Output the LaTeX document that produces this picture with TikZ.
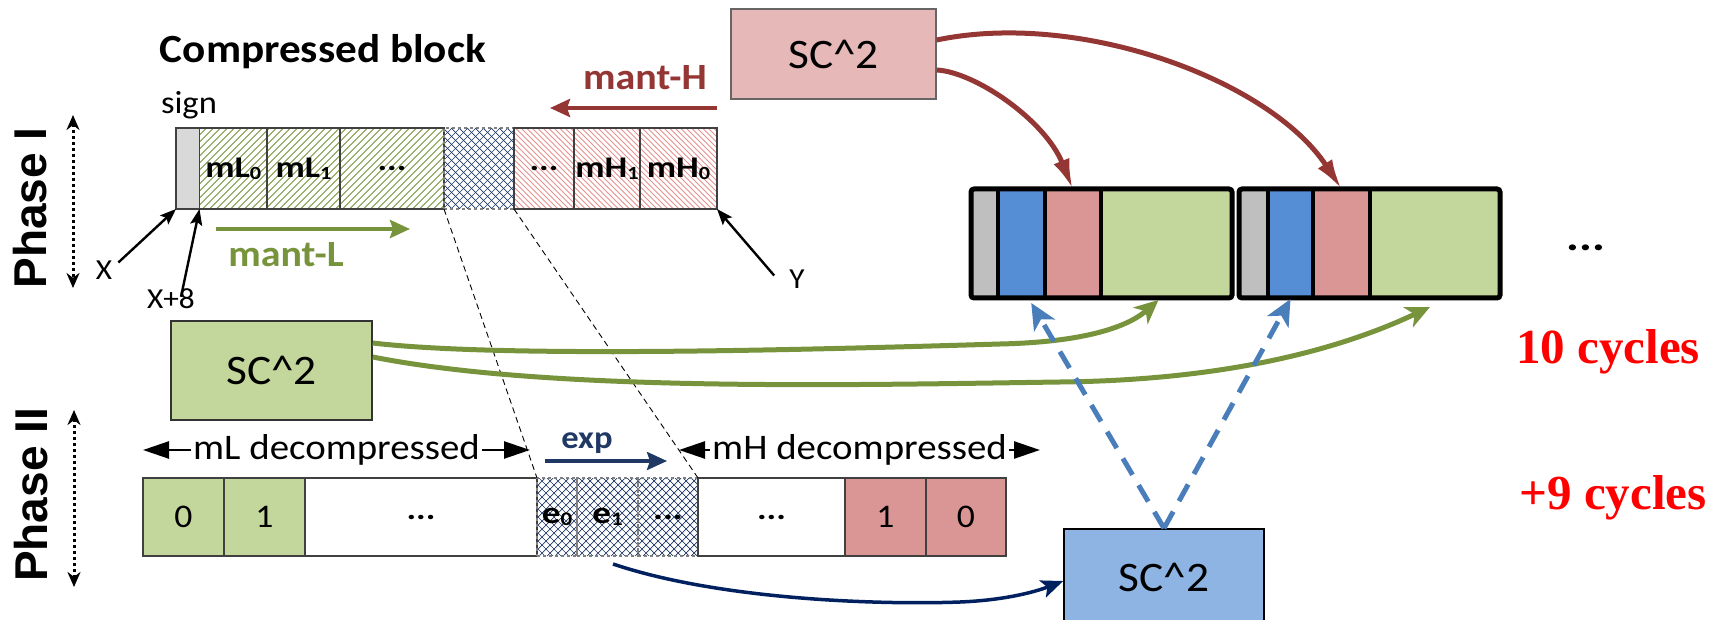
\documentclass[tikz,border=0pt]{standalone}
\usepackage{fontspec}
\setmainfont{Carlito}[FakeStretch=1.08]
\newfontfamily\cellfont{Carlito}[FakeStretch=1.2]
\newfontfamily\phasefont{Liberation Sans}
\newfontfamily\cyclefont{Liberation Serif}
\usetikzlibrary{arrows.meta}

\definecolor{sgray}{HTML}{D9D9D9}
\definecolor{mgray}{HTML}{BFBFBF}
\definecolor{mblue}{HTML}{558ED5}
\definecolor{mpink}{HTML}{D99694}
\definecolor{mgreen}{HTML}{C3D69B}
\definecolor{boxpink}{HTML}{E6B9B8}
\definecolor{boxblue}{HTML}{8EB4E3}
\definecolor{darkred}{HTML}{943634}
\definecolor{olive}{HTML}{77933C}
\definecolor{navy}{HTML}{1F3864}
\definecolor{deepnavy}{HTML}{002060}
\definecolor{dashblue}{HTML}{4A7EBB}
\definecolor{hatchred}{HTML}{E3928F}
\definecolor{edgegray}{HTML}{404040}

\newcommand\fsz[1]{\fontsize{#1}{#1}\selectfont}
\newcommand\lowidx[1]{\raisebox{-0.06em}{\scalebox{0.62}{#1}}}

\begin{document}
\begin{tikzpicture}[x=1pt,y=-1pt,
  cellbox/.style={draw=edgegray, line width=1.1pt, inner sep=0pt, outer sep=0pt, anchor=north west},
  rowI/.style={cellbox, minimum height=81pt, font=\cellfont\fsz{30}\bfseries},
  rowII/.style={cellbox, minimum height=78pt, font=\fsz{33}},
  xcell/.style={draw=gray, dashed},
  hatchline/.style={line width=0.8pt},
  crossline/.style={navy, line width=0.7pt},
  memcell/.style={inner sep=0pt, outer sep=0pt, anchor=north west, minimum height=109pt},
  memframe/.style={memcell, draw=black, line width=5pt, rounded corners=3pt},
  sep/.style={line width=4pt},
  scbox/.style={line width=1.5pt, inner sep=0pt, font=\fsz{42}},
  txt/.style={inner sep=0pt},
  phase/.style={inner sep=0pt, rotate=90, font=\phasefont\bfseries\fsz{46}},
  dotarrow/.style={line width=3pt, dash pattern=on 3pt off 3pt, {Stealth[length=15pt,width=13pt]}-{Stealth[length=15pt,width=13pt]}},
  ptr/.style={line width=2.4pt, -{Stealth[length=16pt,width=12pt,inset=3pt]}},
  redarrow/.style={darkred, line width=5pt, -{Latex[length=30pt,width=17pt]}},
  greenarrow/.style={olive, line width=5pt, -{Stealth[length=24pt,width=22pt,inset=7pt]}},
  bluearrow/.style={dashblue, line width=5pt, dash pattern=on 19pt off 12pt, -{Stealth[length=26pt,width=24pt,inset=7pt]}},
  navyarrow/.style={deepnavy, line width=3.5pt, -{Stealth[length=22pt,width=18pt,inset=5pt]}},
  shortarrow/.style={line width=4pt, -{Stealth[length=20pt,width=18pt,inset=3pt]}},
  spanarrow/.style={line width=2.5pt, {Triangle[length=26pt,width=17pt]}-{Triangle[length=26pt,width=17pt]}},
]
\useasboundingbox (0,0) rectangle (1725,620);
\clip (0,0) rectangle (1725,620);

% ---------- Phase I : compressed block ----------
\node[txt, font=\fsz{40}\bfseries] (title) at (323,52) {Compressed block};
\node[txt, font=\fsz{32}] (sign) at (189,105) {sign};

% hatched fields
\begin{scope}
  \clip (199.5,128) rectangle (444,209);
  \foreach \k in {0,...,48} \draw[hatchline, olive] (118.5+7*\k,209) -- ++(81,-81);
\end{scope}
\begin{scope}
  \clip (514,128) rectangle (717,209);
  \foreach \k in {0,...,52} \draw[hatchline, hatchred] (433+5.5*\k,128) -- ++(81,81);
\end{scope}
\begin{scope}
  \clip (444,128) rectangle (514,209);
  \foreach \k in {0,...,20} {
    \draw[crossline] (363+8*\k,209) -- ++(81,-81);
    \draw[crossline] (363+8*\k,128) -- ++(81,81);
  }
\end{scope}

\node[rowI, fill=sgray, minimum width=23.5pt] (sgn) at (176,128) {};
\node[rowI, minimum width=67.5pt] (mlz) at (199.5,128) {mL\lowidx{0}};
\node[rowI, minimum width=73pt] (mlo) at (267,128) {mL\lowidx{1}};
\node[rowI, minimum width=104pt] (mld) at (340,128) {...};
\node[rowI, xcell, minimum width=70pt] (xh) at (444,128) {};
\node[rowI, minimum width=60pt] (mhd) at (514,128) {...};
\node[rowI, minimum width=66pt] (mho) at (574,128) {mH\lowidx{1}};
\node[rowI, minimum width=77pt] (mhz) at (640,128) {mH\lowidx{0}};

% pointers to the block boundaries
\node[txt, font=\fsz{29}] (lX) at (104,270) {X};
\node[txt, font=\fsz{29}] (lX8) at (171,299) {X+8};
\node[txt, font=\fsz{29}] (lY) at (797,279) {Y};
\draw[ptr] ([xshift=6pt,yshift=-2pt]lX.north east) -- (sgn.south west);
\draw[ptr] ([xshift=10pt,yshift=-8pt]lX8.north) -- (sgn.south east);
\draw[ptr] ([xshift=-15pt,yshift=-6pt]lY.north west) -- (mhz.south east);

% mantissa directions
\coordinate (mhA) at (717,108);
\coordinate (mhB) at (550,108);
\draw[shortarrow, darkred] (mhA) -- (mhB);
\node[txt, font=\fsz{37}\bfseries, text=darkred] (mantH) at (645,78) {mant-H};
\coordinate (mlA) at (216,229);
\coordinate (mlB) at (410,229);
\draw[shortarrow, olive] (mlA) -- (mlB);
\node[txt, font=\fsz{37}\bfseries, text=olive] (mantL) at (286,255) {mant-L};

% phase labels
\node[phase] (phI) at (30,208) {Phase I};
\coordinate (pIa) at (73,115);
\coordinate (pIb) at (73,288);
\draw[dotarrow] (pIa) -- (pIb);
\node[phase] (phII) at (31,495) {Phase II};
\coordinate (pIIa) at (74,410);
\coordinate (pIIb) at (74,587);
\draw[dotarrow] (pIIa) -- (pIIb);

% ---------- SC^2 units ----------
\node[scbox, draw=gray!80!black, fill=boxpink, minimum width=205pt, minimum height=90pt] (sch) at (833.5,54) {SC\^{}2};
\node[scbox, draw=black!80, fill=mgreen, minimum width=201pt, minimum height=99pt] (scl) at (271.5,370.5) {SC\^{}2};
\node[scbox, draw=black, fill=boxblue, minimum width=200pt, minimum height=96pt] (sce) at (1164,577) {SC\^{}2};

% ---------- Phase II : decompressed values ----------
\begin{scope}
  \clip (537,478) rectangle (698,556);
  \foreach \k in {0,...,31} {
    \draw[crossline] (459+8*\k,556) -- ++(78,-78);
    \draw[crossline] (459+8*\k,478) -- ++(78,78);
  }
\end{scope}
\node[rowII, fill=mgreen, minimum width=81pt] (pz) at (143,478) {0};
\node[rowII, fill=mgreen, minimum width=81pt] (po) at (224,478) {1};
\node[rowII, fill=white, minimum width=232pt, font=\cellfont\fsz{30}\bfseries] (pd) at (305,478) {...};
\node[rowII, xcell, minimum width=40pt, font=\cellfont\fsz{31}\bfseries] (pe0) at (537,478) {e\lowidx{0}};
\node[rowII, xcell, minimum width=61pt, font=\cellfont\fsz{31}\bfseries] (pe1) at (577,478) {e\lowidx{1}};
\node[rowII, xcell, minimum width=60pt, font=\cellfont\fsz{31}\bfseries] (ped) at (638,478) {...};
\node[rowII, fill=white, minimum width=147pt, font=\cellfont\fsz{30}\bfseries] (qd) at (698,478) {...};
\node[rowII, fill=mpink, minimum width=81pt] (qo) at (845,478) {1};
\node[rowII, fill=mpink, minimum width=80pt] (qz) at (926,478) {0};

% exponent region mapping between the two phases
\draw[line width=0.9pt, dash pattern=on 6pt off 4pt] (xh.south west) -- (pe0.north west);
\draw[line width=0.9pt, dash pattern=on 6pt off 4pt] (xh.south east) -- (ped.north east);

% extent labels
\coordinate (mlL) at (143,450);
\coordinate (mlR) at (530,450);
\draw[spanarrow] (mlL) -- (mlR) node[midway, fill=white, inner sep=2pt, font=\fsz{36}] (mldec) {mL decompressed};
\coordinate (mhL) at (679,450);
\coordinate (mhR) at (1040,450);
\draw[spanarrow] (mhL) -- (mhR) node[midway, fill=white, inner sep=2pt, font=\fsz{36}] (mhdec) {mH decompressed};

\coordinate (exA) at (545,461);
\coordinate (exB) at (667,461);
\draw[shortarrow, navy, line width=3.5pt] (exA) -- (exB);
\node[txt, font=\fsz{32}\bfseries, text=navy] (expl) at (587,443) {exp};

% ---------- reconstructed values ----------
\node[memcell, fill=mgray, minimum width=27pt] (ags) at (971,189) {};
\node[memcell, fill=mblue, minimum width=46.5pt] (agb) at (998,189) {};
\node[memcell, fill=mpink, minimum width=56.5pt] (agp) at (1044.5,189) {};
\node[memcell, fill=mgreen, minimum width=131pt] (agg) at (1101,189) {};
\node[memframe, minimum width=261pt] (memA) at (971,189) {};
\draw[sep] (agb.north west) -- (agb.south west);
\draw[sep] (agp.north west) -- (agp.south west);
\draw[sep] (agg.north west) -- (agg.south west);

\node[memcell, fill=mgray, minimum width=29pt] (bgs) at (1239,189) {};
\node[memcell, fill=mblue, minimum width=45pt] (bgb) at (1268,189) {};
\node[memcell, fill=mpink, minimum width=57pt] (bgp) at (1313,189) {};
\node[memcell, fill=mgreen, minimum width=130pt] (bgg) at (1370,189) {};
\node[memframe, minimum width=261pt] (memB) at (1239,189) {};
\draw[sep] (bgb.north west) -- (bgb.south west);
\draw[sep] (bgp.north west) -- (bgp.south west);
\draw[sep] (bgg.north west) -- (bgg.south west);

\node[txt, font=\cellfont\fsz{40}\bfseries] (more) at (1586,248) {...};

% ---------- data flow ----------
\draw[redarrow] ([yshift=-16pt]sch.east) .. controls (975,72) and (1045,120) .. (agp.north);
\draw[redarrow] ([yshift=14pt]sch.east) .. controls (1080,10) and (1270,80) .. (bgp.north);

\draw[greenarrow] ([yshift=27.5pt]scl.east) .. controls (500,358) and (800,350) .. (1000,344)
   .. controls (1090,342) and (1130,325) .. ([xshift=-8pt,yshift=-2pt]agg.south);
\draw[greenarrow] ([yshift=13.5pt]scl.east) .. controls (550,392) and (850,385) .. (1060,382)
   .. controls (1250,380) and (1360,340) .. ([xshift=-5pt,yshift=-9pt]bgg.south);

\draw[bluearrow] (sce.north) -- ([xshift=10pt,yshift=-5pt]agb.south);
\draw[bluearrow] (sce.north) -- ([xshift=0pt,yshift=-1pt]bgb.south);

\draw[navyarrow] ([xshift=5.5pt,yshift=-8pt]pe1.south) .. controls (720,600) and (880,605) .. (960,602)
   .. controls (1010,600) and (1040,590) .. ([yshift=-4pt]sce.west);

% ---------- timing ----------
\node[txt, font=\cyclefont\bfseries\fsz{49}, text=red] (cycA) at (1608,352) {10 cycles};
\node[txt, font=\cyclefont\bfseries\fsz{49}, text=red] (cycB) at (1613,498) {+9 cycles};
\end{tikzpicture}
\end{document}
